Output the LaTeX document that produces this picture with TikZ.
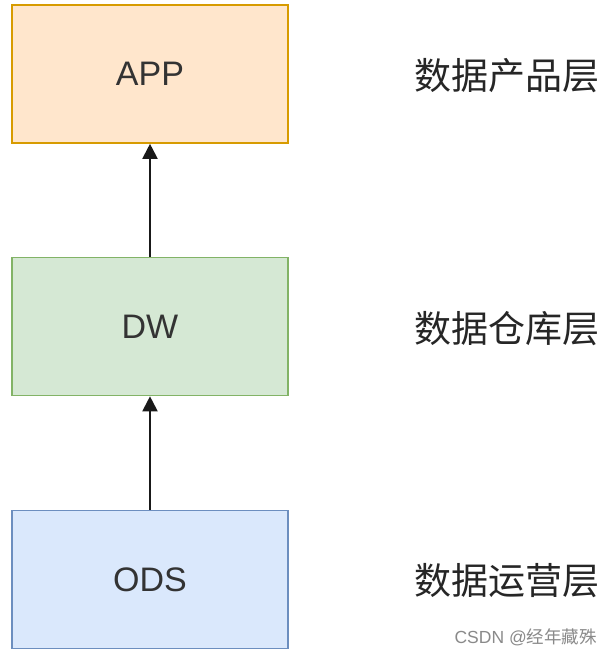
\documentclass[tikz,border=0pt]{standalone}
\usepackage{fontspec}
\setmainfont{Liberation Sans}
\newfontfamily\cjk{Noto Sans CJK SC}
\usetikzlibrary{arrows.meta}
\definecolor{appfill}{HTML}{FFE6CC}
\definecolor{appdraw}{HTML}{D79B00}
\definecolor{dwfill}{HTML}{D5E8D4}
\definecolor{dwdraw}{HTML}{82B366}
\definecolor{odsfill}{HTML}{DAE8FC}
\definecolor{odsdraw}{HTML}{6C8EBF}
\definecolor{wm}{HTML}{8A8A8A}
\tikzset{
  layer/.style={draw, line width=1.6pt, minimum width=276pt, minimum height=138pt, inner sep=0pt, font=\fontsize{34}{40}\selectfont, text=black!80},
  lbl/.style={font=\cjk\fontsize{37}{42}\selectfont, text=black!85, anchor=west, inner sep=0pt},
  conn/.style={-{Triangle[length=15pt,width=15pt]}, line width=2pt, black!90}
}
\begin{document}
\begin{tikzpicture}[x=1pt,y=1pt]
\useasboundingbox (0,0) rectangle (611,-657);
\fill[white] (0,0) rectangle (611,-657);
\node[layer, fill=appfill, draw=appdraw] (app) at (150,-74) {APP};
\node[layer, fill=dwfill, draw=dwdraw] (dw) at (150,-326.5) {DW};
\node[layer, fill=odsfill, draw=odsdraw] (ods) at (150,-579.5) {ODS};
\draw[conn] (ods.north) -- (dw.south);
\draw[conn] (dw.north) -- (app.south);
\node[lbl] (l1) at (414,-76) {数据产品层};
\node[lbl] (l2) at (414,-329) {数据仓库层};
\node[lbl] (l3) at (414,-581) {数据运营层};
\node[font=\fontsize{17.5}{20}\selectfont, text=wm, anchor=east, inner sep=0pt] (wmk) at (597,-637) {CSDN @{\cjk 经年藏殊}};
\end{tikzpicture}
\end{document}
